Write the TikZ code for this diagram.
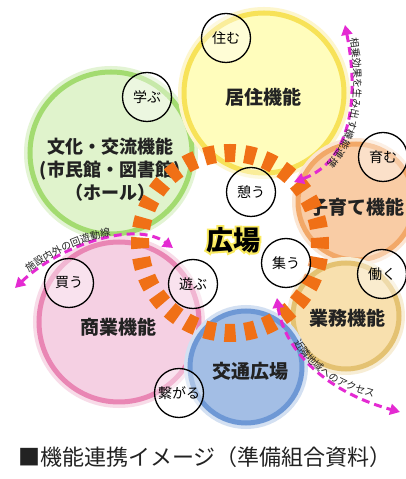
\documentclass[tikz,border=0pt]{standalone}
\usepackage{fontspec}
\setmainfont{Noto Sans CJK JP}
\newfontfamily\glowfont{Noto Sans CJK JP}[FakeBold=14]
\usetikzlibrary{arrows.meta,decorations.text}
\definecolor{YelFill}{RGB}{255,253,188}
\definecolor{YelLine}{RGB}{247,226,88}
\definecolor{GrnFill}{RGB}{224,243,204}
\definecolor{GrnLine}{RGB}{163,219,112}
\definecolor{OrgFill}{RGB}{249,204,165}
\definecolor{OrgLine}{RGB}{242,168,104}
\definecolor{TanFill}{RGB}{248,224,174}
\definecolor{TanLine}{RGB}{228,194,114}
\definecolor{PnkFill}{RGB}{245,208,227}
\definecolor{PnkLine}{RGB}{233,134,180}
\definecolor{BluFill}{RGB}{163,190,229}
\definecolor{BluLine}{RGB}{110,152,213}
\definecolor{DashOrg}{RGB}{240,112,22}
\definecolor{Mag}{RGB}{228,42,210}
\definecolor{GlowYel}{RGB}{250,234,95}
\definecolor{Ink}{RGB}{34,34,34}
\newcommand\arcfont{\fontsize{10}{10}\selectfont\color{Ink}}
% yellow outline behind the plaza word
\newcommand\glowword[1]{\rlap{\glowfont\bfseries\color{GlowYel}#1}#1}
\tikzstyle{func}=[circle,line width=5pt,inner sep=0pt]
\tikzstyle{cy}=[fill=YelFill,draw=YelLine,preaction={draw=YelLine!30,line width=12pt}]
\tikzstyle{cg}=[fill=GrnFill,draw=GrnLine,preaction={draw=GrnLine!30,line width=12pt}]
\tikzstyle{co}=[fill=OrgFill,draw=OrgLine,preaction={draw=OrgLine!30,line width=12pt}]
\tikzstyle{ct}=[fill=TanFill,draw=TanLine,preaction={draw=TanLine!30,line width=12pt}]
\tikzstyle{cp}=[fill=PnkFill,draw=PnkLine,preaction={draw=PnkLine!30,line width=12pt}]
\tikzstyle{cb}=[fill=BluFill,draw=BluLine,preaction={draw=BluLine!30,line width=12pt}]
\tikzstyle{funcname}=[font=\fontsize{19}{23}\selectfont\bfseries,text=Ink,align=center,inner sep=0pt]
\tikzstyle{act}=[draw,circle,black,line width=1.3pt,fill=white,fill opacity=0.4,text opacity=1,minimum size=49pt,inner sep=0pt,font=\fontsize{14}{14}\selectfont]
\tikzstyle{ring}=[draw=DashOrg,line width=18pt,dash pattern=on 11pt off 9.2pt,dash phase=5.5pt]
\tikzstyle{plazaname}=[font=\fontsize{27}{27}\selectfont\bfseries,inner sep=0pt]
\tikzstyle{flow}=[draw=Mag,line width=3pt,dash pattern=on 8pt off 5pt,{Triangle[length=10pt,width=11pt]}-{Triangle[length=10pt,width=11pt]}]
\tikzstyle{flowtext}=[decorate,decoration={text along path,raise=2.5pt}]
\tikzstyle{caption}=[font=\fontsize{22}{22}\selectfont,text=Ink]

\begin{document}
\begin{tikzpicture}[x=1pt,y=1pt]
\useasboundingbox[fill=white] (0,0) rectangle (405,479);
% function circles
\foreach \place/\name/\col/\size in {{(111,326)/bunka/cg/162}, {(264,386)/kyoju/cy/160},
  {(356,277)/kosodate/co/116}, {(346,163)/gyomu/ct/106},
  {(119,157)/shogyo/cp/160}, {(246,112)/kotsu/cb/112}}
    \node[func,\col,minimum size=\size] (\name) at \place {};
\foreach \place/\name/\txt in {{(263,382)/kyoju-t/居住機能}, {(357,272)/kosodate-t/子育て機能},
  {(347,161)/gyomu-t/業務機能}, {(118,152)/shogyo-t/商業機能},
  {(250,108)/kotsu-t/交通広場}}
    \node[funcname] (\name) at \place {\txt};
\node[funcname,font=\fontsize{18}{23}\selectfont\bfseries] (bunka-t) at (110,309)
  {文化・交流機能\\(市民館・図書館)\\（ホール）};

% plaza ring
\coordinate (plaza) at (230,236);
\draw[ring] (plaza) circle (90);

% flows
\coordinate (a1s) at (345,454);
\coordinate (a1e) at (294,297);
\coordinate (a2s) at (15,191);
\coordinate (a2e) at (173,231);
\coordinate (a3s) at (277,181);
\coordinate (a3e) at (400,67);
\draw[flow] (a1s) .. controls (358,389) and (355,319) .. (a1e);
\draw[flow] (a2s) .. controls (60,234) and (135,259) .. (a2e);
\draw[flow] (a3s) .. controls (283,134) and (320,89) .. (a3e);
\path[flowtext,decoration={text={|\arcfont|相乗効果を生み出す機能連携},text align={left indent=14pt}}]
  (a1s) .. controls (358,389) and (355,319) .. (a1e);
\path[flowtext,decoration={text={|\arcfont|施設内外の回遊動線},text align={left indent=20pt}}]
  (a2s) .. controls (60,234) and (135,259) .. (a2e);
\path[decorate,decoration={text along path,raise=0pt,text={|\arcfont|近隣地域へのアクセス}}]
  (294,137) .. controls (310,107) and (340,87) .. (392,77);

% activities
\foreach \place/\name/\txt in {{(226,441)/sumu/住む}, {(147,382)/manabu/学ぶ},
  {(383,322)/hagukumu/育む}, {(251,287)/ikou/憩う}, {(286,216)/tsudou/集う},
  {(382,205)/hataraku/働く}, {(69,196)/kau/買う}, {(193,195)/asobu/遊ぶ},
  {(179,86)/tsunagaru/繋がる}}
    \node[act] (\name) at \place {\txt};

\node[plazaname] (hiroba) at (233,239) {\glowword{広場}};

\node[caption] (cap) at (205,22) {■機能連携イメージ（準備組合資料）};
\end{tikzpicture}
\end{document}
